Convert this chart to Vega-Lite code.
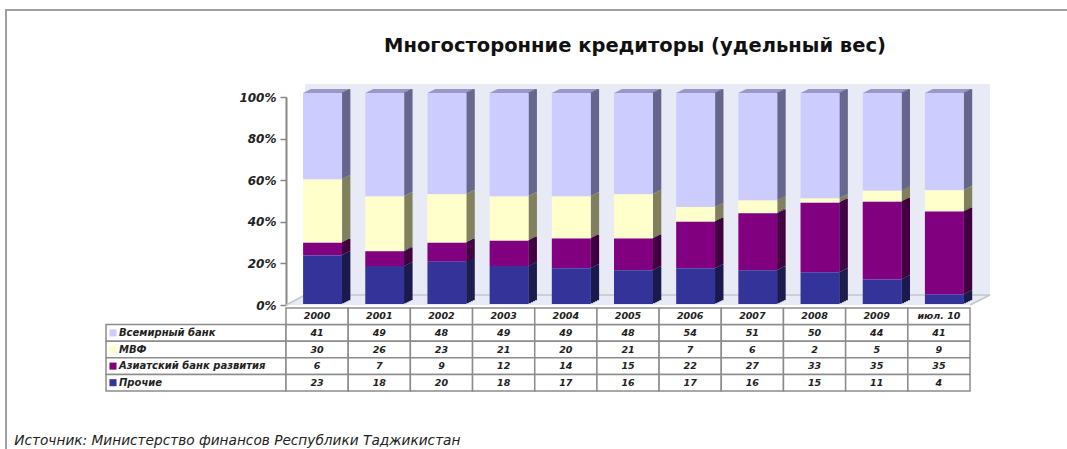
{
"$schema":"https://vega.github.io/schema/vega-lite/v6.json",
"padding":{"left":1,"top":6,"right":0,"bottom":0},
"background":"white",
"config":{"view":{"stroke":null},"font":"DejaVu Sans"},
"datasets":{
"d":[
{"period":"2000","k":1,"series":"Всемирный банк","value":41},{"period":"2000","k":2,"series":"МВФ","value":30},{"period":"2000","k":3,"series":"Азиатский банк развития","value":6},{"period":"2000","k":4,"series":"Прочие","value":23},
{"period":"2001","k":1,"series":"Всемирный банк","value":49},{"period":"2001","k":2,"series":"МВФ","value":26},{"period":"2001","k":3,"series":"Азиатский банк развития","value":7},{"period":"2001","k":4,"series":"Прочие","value":18},
{"period":"2002","k":1,"series":"Всемирный банк","value":48},{"period":"2002","k":2,"series":"МВФ","value":23},{"period":"2002","k":3,"series":"Азиатский банк развития","value":9},{"period":"2002","k":4,"series":"Прочие","value":20},
{"period":"2003","k":1,"series":"Всемирный банк","value":49},{"period":"2003","k":2,"series":"МВФ","value":21},{"period":"2003","k":3,"series":"Азиатский банк развития","value":12},{"period":"2003","k":4,"series":"Прочие","value":18},
{"period":"2004","k":1,"series":"Всемирный банк","value":49},{"period":"2004","k":2,"series":"МВФ","value":20},{"period":"2004","k":3,"series":"Азиатский банк развития","value":14},{"period":"2004","k":4,"series":"Прочие","value":17},
{"period":"2005","k":1,"series":"Всемирный банк","value":48},{"period":"2005","k":2,"series":"МВФ","value":21},{"period":"2005","k":3,"series":"Азиатский банк развития","value":15},{"period":"2005","k":4,"series":"Прочие","value":16},
{"period":"2006","k":1,"series":"Всемирный банк","value":54},{"period":"2006","k":2,"series":"МВФ","value":7},{"period":"2006","k":3,"series":"Азиатский банк развития","value":22},{"period":"2006","k":4,"series":"Прочие","value":17},
{"period":"2007","k":1,"series":"Всемирный банк","value":51},{"period":"2007","k":2,"series":"МВФ","value":6},{"period":"2007","k":3,"series":"Азиатский банк развития","value":27},{"period":"2007","k":4,"series":"Прочие","value":16},
{"period":"2008","k":1,"series":"Всемирный банк","value":50},{"period":"2008","k":2,"series":"МВФ","value":2},{"period":"2008","k":3,"series":"Азиатский банк развития","value":33},{"period":"2008","k":4,"series":"Прочие","value":15},
{"period":"2009","k":1,"series":"Всемирный банк","value":44},{"period":"2009","k":2,"series":"МВФ","value":5},{"period":"2009","k":3,"series":"Азиатский банк развития","value":35},{"period":"2009","k":4,"series":"Прочие","value":11},
{"period":"июл. 10","k":1,"series":"Всемирный банк","value":41},{"period":"июл. 10","k":2,"series":"МВФ","value":9},{"period":"июл. 10","k":3,"series":"Азиатский банк развития","value":35},{"period":"июл. 10","k":4,"series":"Прочие","value":4}
],
"p":[{"period":"2000"},{"period":"2001"},{"period":"2002"},{"period":"2003"},{"period":"2004"},{"period":"2005"},{"period":"2006"},{"period":"2007"},{"period":"2008"},{"period":"2009"},{"period":"июл. 10"}],
"s":[{"series":"Всемирный банк"},{"series":"МВФ"},{"series":"Азиатский банк развития"},{"series":"Прочие"}]
},
"columns":2,
"bounds":"flush",
"spacing":{"row":3,"column":0},
"concat":[
{"width":180,"height":208,"data":{"values":[]},"mark":"rect","encoding":{}},
{"width":684,"height":208,
 "title":{"text":"Многосторонние кредиторы (удельный вес)","font":"DejaVu Sans","fontSize":19.5,"fontWeight":"bold","color":"#111","anchor":"middle","dx":7,"offset":-50},
 "data":{"name":"d"},
 "resolve":{"scale":{"y":"independent","fill":"independent"},"axis":{"y":"independent"}},
 "encoding":{"x":{"field":"period","type":"nominal","axis":null,"scale":{"domain":["2000","2001","2002","2003","2004","2005","2006","2007","2008","2009","июл. 10"],"paddingInner":0,"paddingOuter":0}}},
 "layer":[
  {"data":{"values":[{"period":"2005"}]},
   "mark":{"type":"point","filled":true,"color":"#e8ebf5","opacity":1,"size":4,"shape":"M-342,0L-323,-10L-323,-221L362,-221L362,-10L342,0Z"},
   "encoding":{"y":{"datum":0,"type":"quantitative","scale":{"domain":[0,100],"range":[208,0]},"axis":{"values":[0,20,40,60,80,100],"labelExpr":"datum.value+'%'","title":null,"grid":false,"domainColor":"#868686","domainWidth":2,"tickColor":"#868686","tickSize":6,"tickWidth":1.5,"labelFont":"DejaVu Sans","labelFontSize":12,"labelFontStyle":"italic","labelFontWeight":"bold","labelColor":"#222","labelPadding":4}}}},
  {"data":{"values":[{"period":"2005"}]},
   "mark":{"type":"point","filled":false,"stroke":"#c4c6ce","strokeWidth":1.5,"opacity":1,"size":4,"shape":"M-342,0L-323,-10L362,-10L342,0"},
   "encoding":{"y":{"datum":0,"type":"quantitative","scale":{"domain":[0,100],"range":[208,0]},"axis":null}}},
  {"data":{"values":[{"period":"2005"}]},
   "mark":{"type":"point","filled":false,"stroke":"#a0a0a0","strokeWidth":2,"opacity":1,"size":4,"shape":"M-622,144L-622,-295L439,-295"},
   "encoding":{"y":{"datum":0,"type":"quantitative","scale":{"domain":[0,100],"range":[208,0]},"axis":null}}},
  {"data":{"name":"p"},
   "mark":{"type":"point","filled":true,"color":"#9a98c6","opacity":1,"size":4,"shape":"M-14,0L25,0L33,-4L-6,-4Z"},
   "encoding":{"y":{"datum":100,"type":"quantitative","scale":{"domain":[0,100],"range":[207,-4]},"axis":null}}},
  {"mark":{"type":"bar","width":2.6,"xOffset":26,"yOffset":-0.8,"y2Offset":-0.8},
   "encoding":{"y":{"field":"value","type":"quantitative","stack":"normalize","scale":{"domain":[0,1],"range":[207,-4]},"axis":null},"order":{"field":"k","sort":"descending"},
    "fill":{"field":"series","legend":null,"scale":{"domain":["Всемирный банк","МВФ","Азиатский банк развития","Прочие"],"range":["#66668c","#80805f","#400040","#1a1a4c"]}}}},
  {"mark":{"type":"bar","width":2.6,"xOffset":28,"yOffset":-1.8,"y2Offset":-1.8},
   "encoding":{"y":{"field":"value","type":"quantitative","stack":"normalize","scale":{"domain":[0,1],"range":[207,-4]},"axis":null},"order":{"field":"k","sort":"descending"},
    "fill":{"field":"series","legend":null,"scale":{"domain":["Всемирный банк","МВФ","Азиатский банк развития","Прочие"],"range":["#66668c","#80805f","#400040","#1a1a4c"]}}}},
  {"mark":{"type":"bar","width":2.6,"xOffset":30,"yOffset":-2.8,"y2Offset":-2.8},
   "encoding":{"y":{"field":"value","type":"quantitative","stack":"normalize","scale":{"domain":[0,1],"range":[207,-4]},"axis":null},"order":{"field":"k","sort":"descending"},
    "fill":{"field":"series","legend":null,"scale":{"domain":["Всемирный банк","МВФ","Азиатский банк развития","Прочие"],"range":["#66668c","#80805f","#400040","#1a1a4c"]}}}},
  {"mark":{"type":"bar","width":2.6,"xOffset":32,"yOffset":-3.8,"y2Offset":-3.8},
   "encoding":{"y":{"field":"value","type":"quantitative","stack":"normalize","scale":{"domain":[0,1],"range":[207,-4]},"axis":null},"order":{"field":"k","sort":"descending"},
    "fill":{"field":"series","legend":null,"scale":{"domain":["Всемирный банк","МВФ","Азиатский банк развития","Прочие"],"range":["#66668c","#80805f","#400040","#1a1a4c"]}}}},
  {"mark":{"type":"bar","width":39,"xOffset":5.5},
   "encoding":{"y":{"field":"value","type":"quantitative","stack":"normalize","title":null,"scale":{"domain":[0,1],"range":[207,-4]},"axis":null},"order":{"field":"k","sort":"descending"},
    "fill":{"field":"series","legend":null,"scale":{"domain":["Всемирный банк","МВФ","Азиатский банк развития","Прочие"],"range":["#ccccff","#ffffcc","#800080","#333399"]}}}}
 ]},
{"width":180,"height":83,
 "title":{"text":"Источник: Министерство финансов Республики Таджикистан","orient":"bottom","anchor":"start","dx":-91,"offset":42,"font":"DejaVu Sans","fontSize":13.7,"fontStyle":"italic","fontWeight":"normal","color":"#222"},
 "data":{"name":"s"},
 "encoding":{"y":{"field":"series","type":"nominal","axis":null,"scale":{"domain":["Период","Всемирный банк","МВФ","Азиатский банк развития","Прочие"],"paddingInner":0,"paddingOuter":0}}},
 "layer":[
  {"mark":{"type":"rect","fill":"white","stroke":"#8c8c8c","strokeWidth":1.5}},
  {"mark":{"type":"point","shape":"square","filled":true,"size":50,"opacity":1},
   "encoding":{"x":{"datum":7,"type":"quantitative","axis":null,"scale":{"domain":[0,180]}},
    "fill":{"field":"series","legend":null,"scale":{"domain":["Всемирный банк","МВФ","Азиатский банк развития","Прочие"],"range":["#ccccff","#ffffcc","#800080","#333399"]}}}},
  {"mark":{"type":"text","align":"left","font":"DejaVu Sans","fontSize":10,"fontStyle":"italic","fontWeight":"bold","color":"#222"},
   "encoding":{"x":{"datum":13,"type":"quantitative","axis":null,"scale":{"domain":[0,180]}},"text":{"field":"series"}}}
 ]},
{"width":684,"height":83,
 "encoding":{"x":{"field":"period","type":"nominal","axis":null,"scale":{"domain":["2000","2001","2002","2003","2004","2005","2006","2007","2008","2009","июл. 10"],"paddingInner":0,"paddingOuter":0}},
   "y":{"field":"series","type":"nominal","axis":null,"scale":{"domain":["Период","Всемирный банк","МВФ","Азиатский банк развития","Прочие"],"paddingInner":0,"paddingOuter":0}}},
 "layer":[
  {"data":{"name":"d"},"mark":{"type":"rect","fill":"white","stroke":"#8c8c8c","strokeWidth":1.5}},
  {"data":{"name":"p"},"mark":{"type":"rect","fill":"white","stroke":"#8c8c8c","strokeWidth":1.5},"encoding":{"y":{"datum":"Период","type":"nominal"}}},
  {"data":{"name":"d"},"mark":{"type":"text","font":"DejaVu Sans","fontSize":9.5,"fontStyle":"italic","fontWeight":"bold","color":"#222"},"encoding":{"text":{"field":"value","type":"quantitative"}}},
  {"data":{"name":"p"},"mark":{"type":"text","font":"DejaVu Sans","fontSize":9.5,"fontStyle":"italic","fontWeight":"bold","color":"#222"},"encoding":{"y":{"datum":"Период","type":"nominal"},"text":{"field":"period"}}}
 ]}
]}
